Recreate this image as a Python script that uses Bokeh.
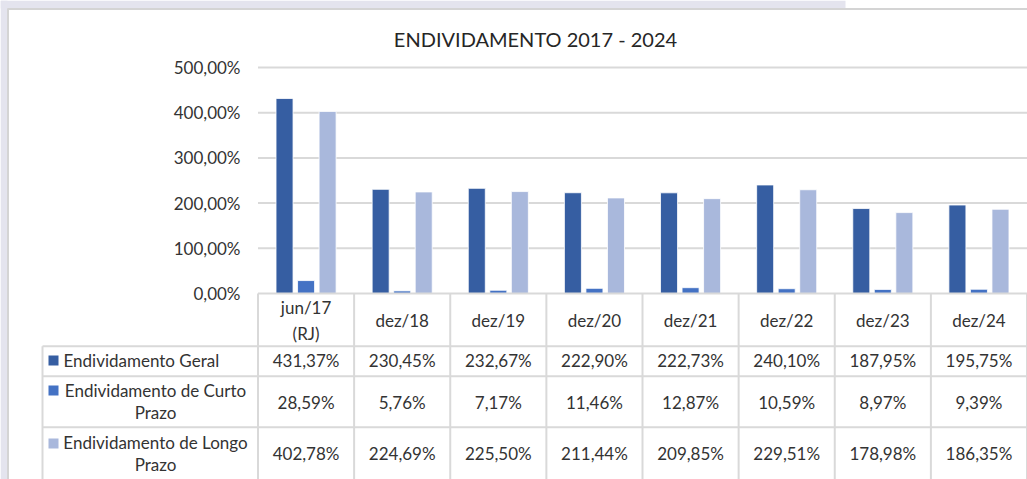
from bokeh.plotting import figure
from bokeh.models import Range1d, ColumnDataSource
from bokeh.core.properties import value
from bokeh.embed import file_html
from bokeh.resources import INLINE

# ---------------- data ----------------
title = "ENDIVIDAMENTO 2017 - 2024"
categories = ["jun/17\n(RJ)", "dez/18", "dez/19", "dez/20", "dez/21", "dez/22", "dez/23", "dez/24"]
series_names = ["Endividamento Geral", "Endividamento de Curto Prazo", "Endividamento de Longo Prazo"]
geral = [431.37, 230.45, 232.67, 222.90, 222.73, 240.10, 187.95, 195.75]
curto = [28.59, 5.76, 7.17, 11.46, 12.87, 10.59, 8.97, 9.39]
longo = [402.78, 224.69, 225.50, 211.44, 209.85, 229.51, 178.98, 186.35]
y_ticks = [0, 100, 200, 300, 400, 500]
colors = ["#365EA2", "#4472C4", "#A9B8DC"]

FONT = "Lato"
TXT = "#333333"
GRID = "#D9D9D9"
BG = "#E4E4EE"


def pct(v):
    return f"{v:,.2f}".replace(",", "X").replace(".", ",").replace("X", ".") + "%"


# ---------------- layout helpers (page pixels -> data units) ----------------
PX0, UX = 257.5, 96.125      # page x of category 0 start, px per category
PY0, UY = 293.0, 0.452       # page y of value 0, px per percentage point
W, H = 1027, 479


def X(px):
    return (px - PX0) / UX


def Y(py):
    return (PY0 - py) / UY


n = len(categories)
p = figure(width=W, height=H, output_backend="svg", toolbar_location=None,
           x_range=Range1d(X(0), X(W)), y_range=Range1d(Y(H), Y(0)),
           min_border=0, min_border_left=0, min_border_right=0,
           min_border_top=0, min_border_bottom=0)
p.axis.visible = False
p.grid.visible = False
p.outline_line_color = None
p.background_fill_color = "white"
p.border_fill_color = "white"

# surrounding page background and panel border
p.quad(left=[X(0), X(0)], right=[X(7), X(845)], bottom=[Y(H), Y(8)], top=[Y(0), Y(0)],
       fill_color=BG, line_color=None)
p.segment(x0=[X(7), X(7.5)], x1=[X(W), X(7.5)], y0=[Y(8.5), Y(8)], y1=[Y(8.5), Y(H)],
          line_color="#D4D4D4", line_width=2)

# title
p.text(x=[X(535)], y=[Y(38)], text=[title], text_font=value(FONT), text_font_size="20px",
       text_color="#262626", text_align="center", text_baseline="middle")

# gridlines
grid_y = [t for t in y_ticks if t > 0]
p.segment(x0=[0] * len(grid_y), x1=[n] * len(grid_y), y0=grid_y, y1=grid_y,
          line_color=GRID, line_width=2)

# y tick labels
p.text(x=[X(240)] * len(y_ticks), y=y_ticks, text=[pct(t) for t in y_ticks],
       text_font=value(FONT), text_font_size="17px", text_color=TXT,
       text_align="right", text_baseline="middle")

# bars
offsets = [-0.224, 0.0, 0.224]
for vals, off, col in zip([geral, curto, longo], offsets, colors):
    src = ColumnDataSource(dict(x=[i + 0.5 + off for i in range(n)], top=vals))
    p.vbar(x="x", top="top", bottom=0, width=0.177, source=src,
           fill_color=col, line_color="white", line_width=0.8)

# ---------------- data table ----------------
row_lines = [Y(345.7), Y(375.7), Y(426.7)]
y_bottom = Y(H)
# horizontal lines
p.segment(x0=[0], x1=[n], y0=[0], y1=[0], line_color=GRID, line_width=2)
p.segment(x0=[X(42)] * 3, x1=[n] * 3, y0=row_lines, y1=row_lines, line_color=GRID, line_width=2)
# vertical lines
p.segment(x0=list(range(n + 1)), x1=list(range(n + 1)), y0=[0] * (n + 1), y1=[y_bottom] * (n + 1),
          line_color=GRID, line_width=2)
p.segment(x0=[X(42)], x1=[X(42)], y0=[row_lines[0]], y1=[y_bottom], line_color=GRID, line_width=2)

# header (categories)
p.text(x=[i + 0.5 for i in range(n)], y=[Y(320)] * n, text=categories,
       text_font=value(FONT), text_font_size="17px", text_color=TXT,
       text_align="center", text_baseline="middle", text_line_height=1.2)

# value rows
row_centers = [Y(360), Y(402), Y(453)]
for vals, yc in zip([geral, curto, longo], row_centers):
    p.text(x=[i + 0.5 for i in range(n)], y=[yc] * n, text=[pct(v) for v in vals],
           text_font=value(FONT), text_font_size="17px", text_color=TXT,
           text_align="center", text_baseline="middle")

# legend keys + names
key_y = [Y(360), Y(390), Y(443)]
p.scatter(x=[X(53)] * 3, y=key_y, marker="square", size=10, fill_color=colors, line_color=None)
label_pos = [(X(63), Y(360), "left"), (X(155), Y(401), "center"), (X(155), Y(453), "center")]
for name, (lx, ly, al) in zip(series_names, label_pos):
    txt = name if len(name) <= 20 else name.rsplit(" ", 1)[0] + "\n" + name.rsplit(" ", 1)[1]
    p.text(x=[lx], y=[ly], text=[txt], text_font=value(FONT), text_font_size="17px",
           text_color=TXT, text_align=al, text_baseline="middle", text_line_height=1.05)

open("out.html", "w").write(file_html(p, INLINE))
